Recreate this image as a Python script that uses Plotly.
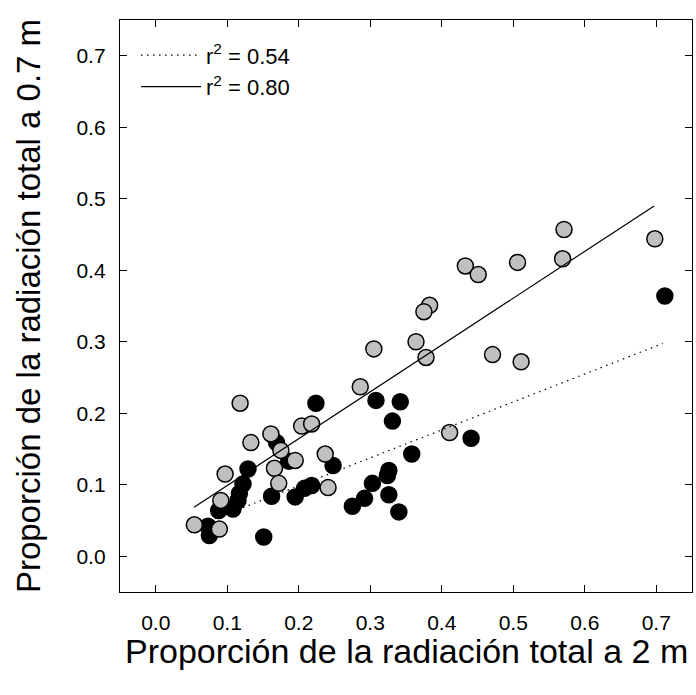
import plotly.graph_objects as go
import numpy as np

# Grey points (regression r2 = 0.80)
grey_x = [0.571, 0.698, 0.569, 0.506, 0.433, 0.451, 0.383, 0.375, 0.364, 0.471,
          0.378, 0.511, 0.305, 0.286, 0.118, 0.204, 0.218, 0.411, 0.133, 0.161,
          0.175, 0.195, 0.237, 0.166, 0.097, 0.172, 0.241, 0.091, 0.054, 0.089]
grey_y = [0.457, 0.444, 0.416, 0.411, 0.406, 0.394, 0.351, 0.342, 0.300, 0.282,
          0.278, 0.272, 0.290, 0.237, 0.214, 0.182, 0.185, 0.173, 0.159, 0.171,
          0.148, 0.134, 0.143, 0.123, 0.115, 0.102, 0.096, 0.078, 0.044, 0.038]

# Black points (regression r2 = 0.54)
black_x = [0.712, 0.224, 0.308, 0.342, 0.331, 0.441, 0.358, 0.248, 0.129, 0.326,
           0.324, 0.303, 0.218, 0.208, 0.122, 0.117, 0.115, 0.162, 0.195, 0.292,
           0.326, 0.275, 0.340, 0.108, 0.088, 0.073, 0.075, 0.151, 0.169, 0.186]
black_y = [0.364, 0.214, 0.218, 0.216, 0.189, 0.165, 0.143, 0.127, 0.122, 0.120,
           0.113, 0.102, 0.099, 0.095, 0.101, 0.088, 0.078, 0.084, 0.083, 0.081,
           0.086, 0.070, 0.062, 0.066, 0.064, 0.042, 0.029, 0.027, 0.159, 0.133]

# Fitted regression lines: intercept, slope, x-range
fit_black = {"a": 0.0203, "b": 0.391, "x": [0.075, 0.709], "label": "r<sup>2</sup> = 0.54"}
fit_grey = {"a": 0.0334, "b": 0.655, "x": [0.0535, 0.697], "label": "r<sup>2</sup> = 0.80"}

tick_vals = [0.0, 0.1, 0.2, 0.3, 0.4, 0.5, 0.6, 0.7]
tick_text = ["0.0", "0.1", "0.2", "0.3", "0.4", "0.5", "0.6", "0.7"]

x_title = "Proporción de la radiación total a 2 m"
y_title = "Proporción de la radiación total a 0.7 m"

FONT = "Arial, Liberation Sans, sans-serif"

fig = go.Figure()

fig.add_trace(go.Scatter(x=black_x, y=black_y, mode="markers", showlegend=False,
                         marker=dict(size=16, color="black",
                                     line=dict(color="black", width=1.5))))
fig.add_trace(go.Scatter(x=grey_x, y=grey_y, mode="markers", showlegend=False,
                         marker=dict(size=16, color="#c0c0c0",
                                     line=dict(color="black", width=1.5))))

for fit, dash in [(fit_black, "1.5px,4.5px"), (fit_grey, "solid")]:
    xs = np.array(fit["x"])
    ys = fit["a"] + fit["b"] * xs
    fig.add_trace(go.Scatter(x=xs, y=ys, mode="lines", name=fit["label"],
                             line=dict(color="black", width=1.2, dash=dash)))

axis_common = dict(
    range=[-0.05, 0.75], tickvals=tick_vals, ticktext=tick_text,
    showline=True, linecolor="black", linewidth=1.3, mirror="ticks",
    ticks="inside", ticklen=7, tickwidth=1.3, tickcolor="black",
    showgrid=False, zeroline=False,
    tickfont=dict(family=FONT, size=21, color="black"),
)

fig.update_layout(
    width=696, height=695,
    margin=dict(l=120, r=4, t=20, b=103),
    paper_bgcolor="white", plot_bgcolor="white",
    font=dict(family=FONT, color="black"),
    xaxis=dict(**axis_common, ticklabelstandoff=12),
    yaxis=dict(**axis_common, ticklabelstandoff=9,
               title=dict(text=y_title,
                          font=dict(family=FONT, size=33), standoff=25)),
    legend=dict(x=0.028, y=0.975, xanchor="left", yanchor="top",
                bgcolor="rgba(0,0,0,0)", font=dict(family=FONT, size=22),
                itemwidth=60, tracegroupgap=0),
    annotations=[dict(text=x_title, xref="paper", yref="paper",
                      x=0.5, y=-0.104, xanchor="center", yanchor="middle",
                      showarrow=False, font=dict(family=FONT, size=34, color="black"))],
)

fig.write_html("out.html")
